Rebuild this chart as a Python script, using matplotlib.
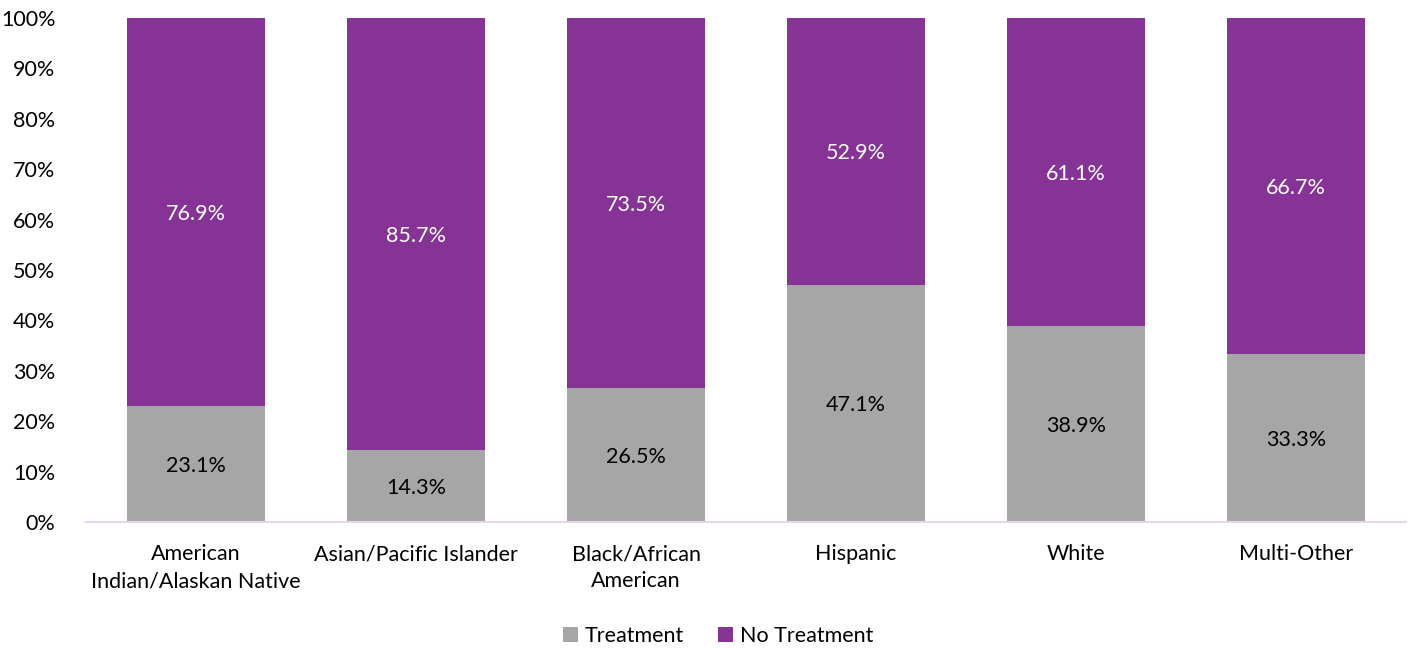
import matplotlib
matplotlib.use("Agg")
import matplotlib.pyplot as plt
import numpy as np

plt.rcParams['font.family'] = ['Lato', 'DejaVu Sans']

categories = ["American\nIndian/Alaskan Native", "Asian/Pacific Islander",
              "Black/African\nAmerican", "Hispanic", "White", "Multi-Other"]
treatment = [23.1, 14.3, 26.5, 47.1, 38.9, 33.3]
no_treatment = [76.9, 85.7, 73.5, 52.9, 61.1, 66.7]

gray = "#A6A6A6"
purple = "#863396"
fs = 15.5

fig = plt.figure(figsize=(14.12, 6.48), dpi=100)
ax = fig.add_axes([86 / 1412, 1 - 522 / 648, 1320 / 1412, 504 / 648])

x = np.arange(len(categories))
w = 0.627
b1 = ax.bar(x, treatment, w, color=gray, label="Treatment")
b2 = ax.bar(x, no_treatment, w, bottom=treatment, color=purple, label="No Treatment")

# value labels in the middle of each segment
for xi, t, n in zip(x, treatment, no_treatment):
    ax.text(xi, t / 2, f"{t:.1f}%", ha="center", va="center_baseline", fontsize=fs, color="black")
    ax.text(xi, t + n / 2, f"{n:.1f}%", ha="center", va="center_baseline", fontsize=fs, color="white")

ax.set_xlim(-0.5, len(categories) - 0.5)
ax.set_ylim(0, 100)
ax.set_yticks(np.arange(0, 101, 10))
ax.set_yticklabels([f"{v}%" for v in range(0, 101, 10)])
ax.set_xticks(x)
ax.set_xticklabels(categories, linespacing=1.45)
ax.tick_params(axis="both", length=0, labelsize=fs, colors="black")
ax.tick_params(axis="x", pad=16)
ax.tick_params(axis="y", pad=22)

for s in ["top", "right", "left"]:
    ax.spines[s].set_visible(False)
ax.spines["bottom"].set_color("#E6D5EC")
ax.spines["bottom"].set_linewidth(1.5)

fig.legend(handles=[b1, b2], loc="center", bbox_to_anchor=(718 / 1412, 1 - 636 / 648),
           ncol=2, frameon=False, fontsize=fs, handlelength=0.7, handleheight=0.7,
           handletextpad=0.3, columnspacing=1.6)

fig.savefig("out.png", dpi=100)
